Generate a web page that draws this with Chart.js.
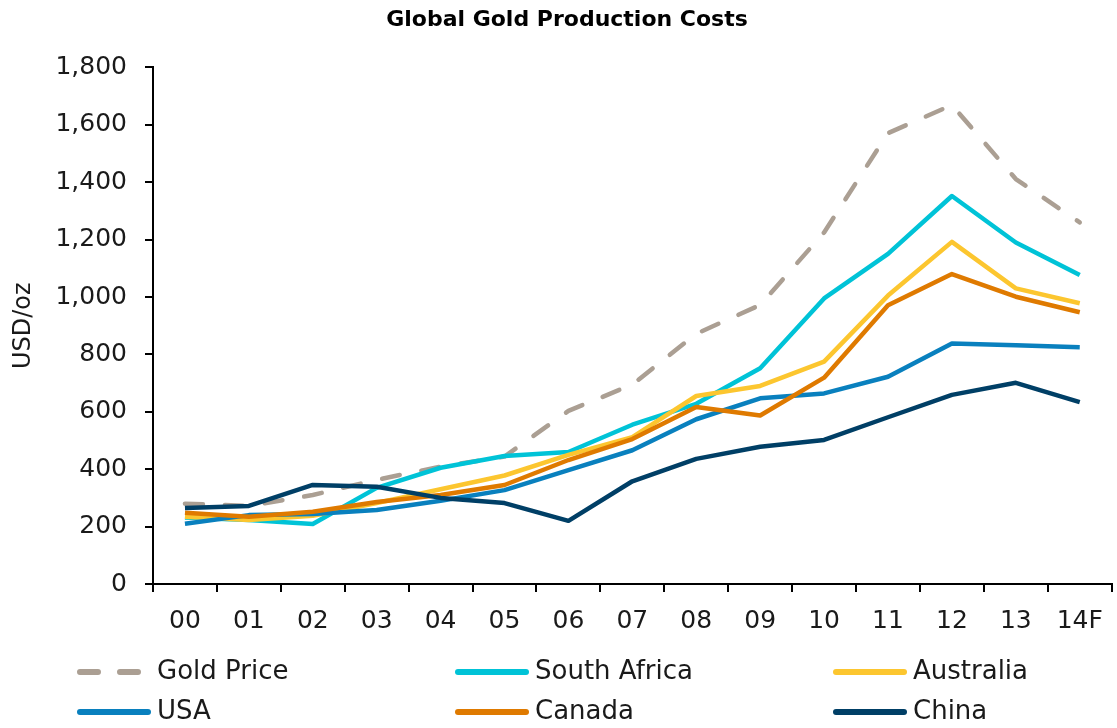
<!DOCTYPE html>
<html>
<head>
<meta charset="utf-8">
<title>Global Gold Production Costs</title>
<script src="https://cdn.jsdelivr.net/npm/chart.js@4.4.1/dist/chart.umd.min.js"></script>
<style>
  html, body { margin: 0; padding: 0; background: #fff; }
  #wrap { width: 1117px; height: 728px; position: relative; }
</style>
</head>
<body>
<div id="wrap"><canvas id="chart"></canvas></div>
<script>
    // Values (USD/oz)
    const years = ['00', '01', '02', '03', '04', '05', '06', '07', '08', '09', '10', '11', '12', '13', '14F'];
    const goldPrice   = [280, 272, 310, 363, 409, 444, 603, 695, 872, 972, 1225, 1571, 1669, 1411, 1260];
    const southAfrica = [232, 223, 209, 335, 405, 446, 460, 555, 628, 752, 995, 1150, 1352, 1190, 1077];
    const australia   = [234, 223, 238, 282, 330, 378, 450, 512, 655, 690, 775, 1005, 1192, 1030, 978];
    const usa         = [210, 240, 244, 258, 290, 327, 397, 466, 574, 647, 664, 722, 838, 832, 825];
    const canada      = [248, 234, 252, 286, 310, 345, 432, 505, 617, 587, 719, 971, 1080, 1001, 947];
    const china       = [265, 272, 345, 339, 300, 282, 220, 358, 436, 478, 502, 581, 659, 701, 634];
    const yTicks = { min: 0, max: 1800, step: 200 };

    const FONT = '"DejaVu Sans", Verdana, sans-serif';

    // Legend in a 3 x 2 grid below the plot
    const gridLegend = {
        id: 'gridLegend',
        afterDraw(chart) {
            const ctx = chart.ctx;
            ctx.save();
            ctx.font = '26px ' + FONT;
            ctx.textBaseline = 'middle';
            chart.data.datasets.forEach((ds, i) => {
                const x = 80 + (i % 3) * 378;
                const y = 672 + Math.floor(i / 3) * 40;
                ctx.beginPath();
                ctx.strokeStyle = ds.borderColor;
                ctx.lineWidth = 6;
                ctx.lineCap = 'round';
                ctx.setLineDash(ds.borderDash || []);
                ctx.moveTo(x, y);
                ctx.lineTo(x + 68, y);
                ctx.stroke();
                ctx.setLineDash([]);
                ctx.fillStyle = '#1a1a1a';
                ctx.fillText(ds.label, x + 77, y);
            });
            ctx.restore();
        }
    };

    function line(label, data, color, order, dash) {
        return {
            label: label,
            data: data,
            borderColor: color,
            backgroundColor: color,
            borderWidth: 4.5,
            borderDash: dash || [],
            borderCapStyle: dash ? 'round' : 'butt',
            borderJoinStyle: 'round',
            pointRadius: 0,
            tension: 0,
            fill: false,
            order: order
        };
    }

    new Chart(document.getElementById('chart'), {
        type: 'line',
        data: {
            labels: years,
            datasets: [
                line('Gold Price', goldPrice, '#ab9f93', 5, [18, 22]),
                line('South Africa', southAfrica, '#00c3d7', 4),
                line('Australia', australia, '#fcc62f', 3),
                line('USA', usa, '#0980be', 2),
                line('Canada', canada, '#df7a00', 1),
                line('China', china, '#003f66', 0)
            ]
        },
        options: {
            responsive: true,
            maintainAspectRatio: false,
            animation: false,
            layout: { padding: { left: 22, right: 5, top: 0, bottom: 84 } },
            plugins: {
                legend: { display: false },
                tooltip: { enabled: false },
                title: {
                    display: true,
                    text: 'Global Gold Production Costs',
                    color: '#000000',
                    font: { family: FONT, size: 22, weight: 'bold' },
                    padding: { top: 7, bottom: 34 }
                }
            },
            scales: {
                x: {
                    offset: true,
                    grid: { offset: true, drawOnChartArea: false, drawTicks: true, tickLength: 8, color: '#000000', lineWidth: 2 },
                    border: { display: true, color: '#000000', width: 2 },
                    ticks: { color: '#1a1a1a', font: { family: FONT, size: 25 }, padding: 14, maxRotation: 0, autoSkip: false },
                    afterFit(scale) { scale.height = 60; }
                },
                y: {
                    min: yTicks.min,
                    max: yTicks.max,
                    grid: { drawOnChartArea: false, drawTicks: true, tickLength: 8, color: '#000000', lineWidth: 2 },
                    border: { display: true, color: '#000000', width: 2 },
                    ticks: {
                        stepSize: yTicks.step,
                        color: '#1a1a1a',
                        font: { family: FONT, size: 25 },
                        padding: 18,
                        callback: v => v.toLocaleString('en-US')
                    },
                    title: {
                        display: true,
                        text: 'USD/oz',
                        color: '#1a1a1a',
                        font: { family: FONT, size: 24 },
                        padding: { top: -13, bottom: 0 }
                    },
                    afterFit(scale) { scale.width = 131; }
                }
            }
        },
        plugins: [gridLegend]
    });
</script>
</body>
</html>
